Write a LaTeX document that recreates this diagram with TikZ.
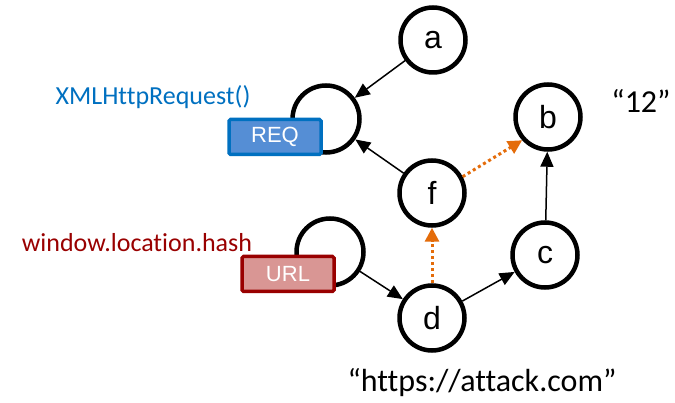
\documentclass[tikz,border=0pt]{standalone}
\usepackage{fontspec}
\setmainfont{Carlito}[Ligatures=NoCommon,RawFeature=-liga]
\newfontfamily\arialf{Liberation Sans}
\usetikzlibrary{arrows.meta}
\definecolor{reqblue}{HTML}{0070C0}
\definecolor{reqfill}{HTML}{558ED5}
\definecolor{urlred}{HTML}{990000}
\definecolor{urlfill}{HTML}{D99694}
\definecolor{dotorange}{HTML}{E46C0A}
\begin{document}
\begin{tikzpicture}[x=1pt,y=-1pt,
  vnode/.style={circle,draw,line width=4.5pt,minimum size=65pt,inner sep=0pt,fill=white,font=\arialf\fontsize{32}{32}\selectfont},
  loopc/.style={circle,draw,line width=4.5pt,minimum size=67pt,inner sep=0pt},
  tagbox/.style={draw,line width=3.5pt,rounded corners=1.5pt,minimum width=92pt,minimum height=35pt,inner sep=0pt,text=white,font=\arialf\fontsize{22}{22}\selectfont},
  arr/.style={line width=1.5pt,-{Triangle[length=15pt,width=13pt]}},
  oarr/.style={line width=3pt,dotorange,dash pattern=on 3pt off 3pt,-{Triangle[length=14pt,width=14pt]}},
  lbl/.style={font=\fontsize{26}{26}\selectfont,inner sep=0pt},
  biglbl/.style={font=\fontsize{32}{32}\selectfont,inner sep=0pt}
]
\useasboundingbox (0,0) rectangle (675,403);
% loops
\node[loopc] (loopR) at (326,119) {};
\node[loopc] (loopU) at (330,252) {};
\node[tagbox,fill=reqfill,draw=reqblue] (req) at (275,137) {REQ};
\node[tagbox,fill=urlfill,draw=urlred] (url) at (288,274) {URL};
% graph nodes
\node[vnode] (a) at (433,40) {a};
\node[vnode] (b) at (548,117) {b};
\node[vnode] (f) at (432,193) {f};
\node[vnode] (c) at (545,255) {c};
\node[vnode] (d) at (432,318) {d};
% labels
\node[lbl,text=reqblue] (xhr) at (153,97) {XMLHttpRequest()};
\node[lbl,text=urlred] (hash) at (137,243) {window.location.hash};
\node[biglbl] (twelve) at (641,101) {“12”};
\node[biglbl] (atk) at (482,383) {“https://attack.com”};
% edges
\draw[arr] (a) -- (loopR);
\draw[arr] (f) -- (loopR);
\draw[arr] (loopU) -- (d);
\draw[arr] (d) -- (c);
\draw[arr] (c) -- (b);
\draw[oarr] (f.28) -- (b.222);
\draw[oarr] (d) -- (f);
\end{tikzpicture}
\end{document}
